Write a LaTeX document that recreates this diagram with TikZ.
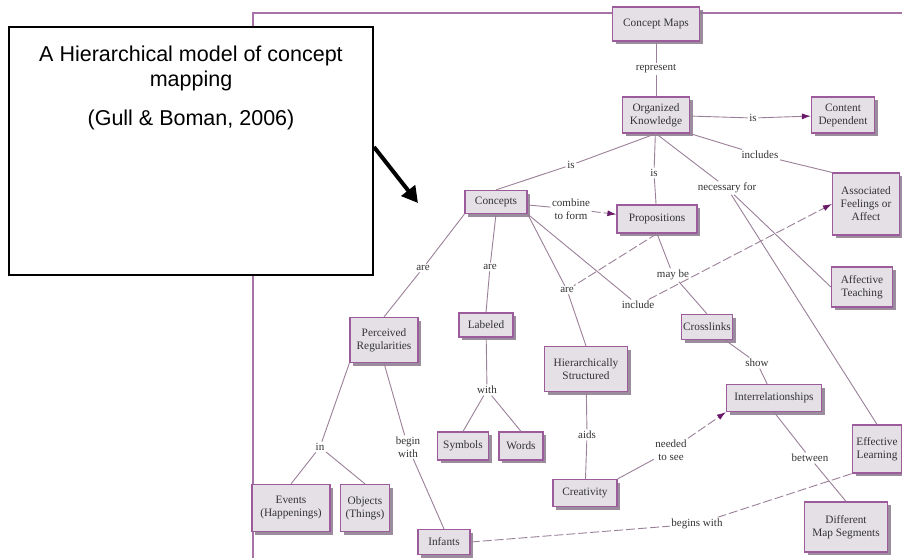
\documentclass[tikz,border=0pt]{standalone}
\usepackage{fontspec}
\setmainfont{Liberation Serif}
\newfontfamily\arialf{Liberation Sans}
\usetikzlibrary{arrows.meta,shadows}
\definecolor{frameC}{HTML}{A874A8}
\definecolor{nodeB}{HTML}{9C5C9C}
\definecolor{nodeF}{HTML}{E4E0E6}
\definecolor{shadC}{HTML}{8A7A8C}
\definecolor{lineC}{HTML}{9A8098}
\definecolor{arrC}{HTML}{6A1A6A}
\definecolor{txtC}{HTML}{333333}
\tikzset{
  cbox/.style={draw=nodeB, line width=1.2pt, fill=nodeF, inner sep=0pt, align=center,
    font=\fontsize{11.3}{13}\selectfont, text=txtC,
    drop shadow={shadow xshift=3pt, shadow yshift=-3pt, fill=shadC, opacity=0.85}},
  lbl/.style={font=\fontsize{11}{12.5}\selectfont, align=center, inner sep=1.5pt, text=txtC},
  ln/.style={draw=lineC, line width=0.9pt},
  dsh/.style={ln, dash pattern=on 9pt off 3pt},
  tip/.style={-{Latex[length=9pt,width=6pt,color=arrC]}}
}
\begin{document}
\begin{tikzpicture}[x=1pt,y=-1pt]
\useasboundingbox (0,0) rectangle (902,558);
\fill[white] (0,0) rectangle (902,558);
% frame
\draw[frameC, line width=1.5pt] (253,558) -- (253,13) -- (902,13);

% concept nodes
\node[cbox, minimum width=87pt, minimum height=34pt] (cmaps) at (656,24) {Concept Maps};
\node[cbox, minimum width=67pt, minimum height=36pt] (ok) at (656,115) {Organized\\Knowledge};
\node[cbox, minimum width=63pt, minimum height=36pt] (cd) at (843,115) {Content\\Dependent};
\node[cbox, minimum width=67pt, minimum height=62pt] (afa) at (866,204) {Associated\\Feelings or\\Affect};
\node[cbox, minimum width=61pt, minimum height=40pt] (at) at (862,287) {Affective\\Teaching};
\node[cbox, minimum width=49pt, minimum height=48pt] (el) at (877,449) {Effective\\Learning};
\node[cbox, minimum width=83pt, minimum height=50pt] (dms) at (846,527) {Different\\Map Segments};
\node[cbox, minimum width=95pt, minimum height=27pt] (ir) at (774,398) {Interrelationships};
\node[cbox, minimum width=51pt, minimum height=25pt] (cl) at (707,327) {Crosslinks};
\node[cbox, minimum width=80pt, minimum height=28pt] (pr) at (657,219) {Propositions};
\node[cbox, minimum width=62pt, minimum height=23pt] (co) at (496,202) {Concepts};
\node[cbox, minimum width=68pt, minimum height=45pt] (pre) at (384,340) {Perceived\\Regularities};
\node[cbox, minimum width=54pt, minimum height=24pt] (lab) at (486,325) {Labeled};
\node[cbox, minimum width=83pt, minimum height=45pt] (hs) at (586,369) {Hierarchically\\Structured};
\node[cbox, minimum width=64pt, minimum height=27pt] (cr) at (585,493) {Creativity};
\node[cbox, minimum width=51pt, minimum height=28pt] (sy) at (463,446) {Symbols};
\node[cbox, minimum width=44pt, minimum height=28pt] (wo) at (521,446) {Words};
\node[cbox, minimum width=78pt, minimum height=47pt] (ev) at (291,508) {Events\\(Happenings)};
\node[cbox, minimum width=49pt, minimum height=47pt] (ob) at (365,508) {Objects\\(Things)};
\node[cbox, minimum width=52pt, minimum height=25pt] (inf) at (444,542) {Infants};

% linking labels
\node[lbl] (lrep) at (656,69) {represent};
\node[lbl] (lis1) at (753,118) {is};
\node[lbl] (linc) at (760,155) {includes};
\node[lbl] (lis2) at (571,165) {is};
\node[lbl] (lis3) at (654,173) {is};
\node[lbl] (lnec) at (727,188) {necessary for};
\node[lbl] (lcomb) at (571,209) {combine\\to form};
\node[lbl] (lare1) at (423,268) {are};
\node[lbl] (lare2) at (490,267) {are};
\node[lbl] (lare3) at (567,290) {are};
\node[lbl] (lincl) at (638,305) {include};
\node[lbl] (lmay) at (673,275) {may be};
\node[lbl] (lshow) at (757,363) {show};
\node[lbl] (lwith) at (487,390) {with};
\node[lbl] (lin) at (320,447) {in};
\node[lbl] (lbegin) at (408,447) {begin\\with};
\node[lbl] (laids) at (587,435) {aids};
\node[lbl] (lneed) at (671,450) {needed\\to see};
\node[lbl] (lbetw) at (810,458) {between};
\node[lbl] (lbw) at (697,524) {begins with};

% connectors
\draw[ln] (cmaps) -- (lrep) -- (ok);
\draw[ln] (ok) -- (lis1);
\draw[ln, tip] (lis1) -- (cd);
\draw[ln] (ok.south east) -- (linc) -- (afa.north west);
\draw[ln] (ok.south) -- (lis2) -- (co.north);
\draw[ln] (ok) -- (lis3) -- (pr);
\draw[ln] (ok.south) -- (lnec);
\draw[ln] (lnec) -- (at.west);
\draw[ln] (lnec) -- (el.north);
\draw[ln] (co) -- (lcomb);
\draw[dsh, tip] (lcomb) -- (pr);
\draw[ln] (co.south west) -- (lare1) -- (pre.north);
\draw[ln] (co.south) -- (lare2) -- (lab.north);
\draw[ln] (co.south east) -- (lare3) -- (hs.north);
\draw[dsh] (pr.south) -- (lare3);
\draw[ln] (co.south east) -- (lincl);
\draw[dsh, tip] (lincl) -- (afa.west);
\draw[ln] (pr.south) -- (lmay) -- (cl.north);
\draw[ln] (cl) -- (lshow) -- (ir);
\draw[ln] (lab) -- (lwith);
\draw[ln] (lwith) -- (sy.north);
\draw[ln] (lwith) -- (wo.north);
\draw[ln] (pre.south west) -- (lin);
\draw[ln] (lin) -- (ev.north);
\draw[ln] (lin) -- (ob.north);
\draw[ln] (pre.south) -- (lbegin) -- (inf.north);
\draw[ln] (hs) -- (laids) -- (cr);
\draw[ln] (cr.north east) -- (lneed);
\draw[dsh, tip] (lneed) -- (ir.south west);
\draw[ln] (ir.south) -- (lbetw) -- (dms.north);
\draw[dsh] (inf.east) -- (lbw) -- (el.south west);

% title box and pointer
\node[draw=black, line width=1.5pt, fill=white, minimum width=364pt, minimum height=248pt, inner sep=0pt] (tb) at (191,151) {};
\node[font=\arialf\fontsize{21.5}{24.5}\selectfont, align=center, anchor=north, inner sep=0pt] (tt) at (191,46)
  {A Hierarchical model of concept\\mapping\\[15pt](Gull \& Boman, 2006)};
\coordinate (pa) at (374,147);
\coordinate (pb) at (418,203);
\draw[line width=4pt, -{Triangle[length=16pt,width=17pt]}] (pa) -- (pb);
\end{tikzpicture}
\end{document}
